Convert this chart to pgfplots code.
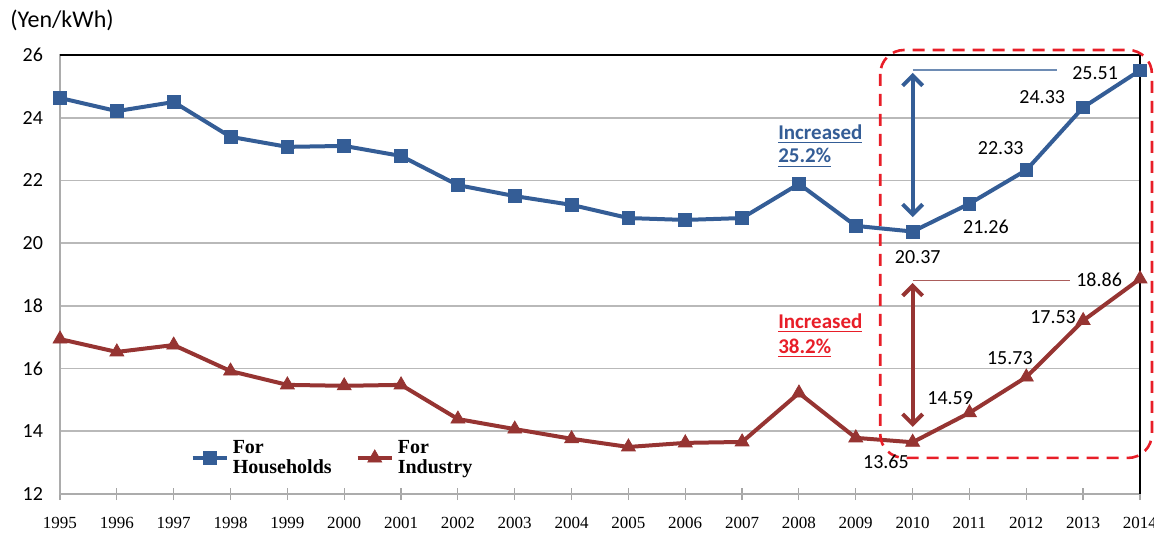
\documentclass[border=0pt]{standalone}
\usepackage{fontspec}
\setmainfont{Carlito}
\newfontfamily\serif{Liberation Serif}
\usepackage{pgfplots}
\pgfplotsset{compat=1.18}
\usetikzlibrary{arrows.meta}

\definecolor{hhblue}{RGB}{52,93,150}
\definecolor{indred}{RGB}{150,52,50}
\definecolor{boxred}{RGB}{232,30,40}
\definecolor{refblue}{RGB}{110,140,180}

\begin{document}
\begin{tikzpicture}
\useasboundingbox (-30pt,-20pt) rectangle (547pt,247pt);
\begin{axis}[
    at={(0,0)}, anchor=south west,
    scale only axis, width=540pt, height=219.5pt,
    xmin=1995, xmax=2014, ymin=12, ymax=26,
    xtick={1995,...,2014}, ytick={12,14,...,26},
    xtick pos=left, ytick pos=left,
    /pgf/number format/1000 sep={},
    /pgf/number format/assume math mode=true,
    ymajorgrids,
    grid style={gray!55, line width=0.8pt},
    axis line style={gray!65, line width=0.8pt},
    xtick align=center, major tick length=6pt,
    xtick style={gray!70, line width=0.6pt},
    ytick style={draw=none},
    xticklabel style={font=\serif\fontsize{8.5}{9}\selectfont, yshift=-5pt},
    yticklabel style={font=\fontsize{10}{11}\selectfont, xshift=-5pt},
    clip=false,
    legend style={
        at={(0.115,0.082)}, anchor=west,
        draw=none, fill=none,
        legend columns=2,
        font=\serif\bfseries\fontsize{10}{10.5}\selectfont,
        /tikz/every even column/.append style={column sep=10pt},
    },
    legend cell align=left,
]

% households
\addplot[color=hhblue, line width=2pt, mark=square*, mark size=3.2pt,
    mark options={solid, line width=0.4pt}] coordinates {
    (1995,24.63) (1996,24.21) (1997,24.50) (1998,23.39) (1999,23.07)
    (2000,23.10) (2001,22.78) (2002,21.85) (2003,21.50) (2004,21.22)
    (2005,20.80) (2006,20.74) (2007,20.80) (2008,21.89) (2009,20.55)
    (2010,20.37) (2011,21.26) (2012,22.33) (2013,24.33) (2014,25.51)
};
\addlegendentry{\shortstack[l]{For\\Households}}

% industry
\addplot[color=indred, line width=2pt, mark=triangle*, mark size=4pt,
    mark options={solid, line width=0.4pt}] coordinates {
    (1995,16.94) (1996,16.53) (1997,16.75) (1998,15.92) (1999,15.48)
    (2000,15.45) (2001,15.48) (2002,14.39) (2003,14.07) (2004,13.76)
    (2005,13.50) (2006,13.63) (2007,13.66) (2008,15.22) (2009,13.79)
    (2010,13.65) (2011,14.59) (2012,15.73) (2013,17.53) (2014,18.86)
};
\addlegendentry{\shortstack[l]{For\\Industry}}

% frame top and right
\draw[black, line width=0.6pt] (rel axis cs:0,1) -- (rel axis cs:1,1) -- (rel axis cs:1,0);

% highlighted region
\draw[boxred, line width=1.3pt, dash pattern=on 6pt off 4pt, rounded corners=12pt]
    (axis cs:2009.43,26.16) rectangle (axis cs:2014.21,13.15);

% reference lines and arrows
\draw[refblue, line width=0.8pt] (axis cs:2010,25.52) -- (axis cs:2012.54,25.52);
\draw[indred!80, line width=0.6pt] (axis cs:2010,18.80) -- (axis cs:2012.77,18.80);
\draw[hhblue, line width=2pt, {Straight Barb[length=5pt,width=10pt]}-{Straight Barb[length=5pt,width=10pt]}]
    (axis cs:2010,25.43) -- (axis cs:2010,20.83);
\draw[indred, line width=2pt, {Straight Barb[length=5pt,width=10pt]}-{Straight Barb[length=5pt,width=10pt]}]
    (axis cs:2010,18.73) -- (axis cs:2010,14.14);

% value labels
\begin{scope}[every node/.style={font=\fontsize{10}{12}\selectfont, inner sep=0pt}]
\node at (axis cs:2013.21,25.43) {25.51};
\node at (axis cs:2012.28,24.66) {24.33};
\node at (axis cs:2011.55,23.03) {22.33};
\node at (axis cs:2011.29,20.51) {21.26};
\node at (axis cs:2010.09,19.56) {20.37};
\node at (axis cs:2013.28,18.82) {18.86};
\node at (axis cs:2012.47,17.64) {17.53};
\node at (axis cs:2011.71,16.34) {15.73};
\node at (axis cs:2010.66,15.06) {14.59};
\node at (axis cs:2009.53,13.02) {13.65};
\end{scope}

% increase notes
\begin{scope}[every node/.style={font=\bfseries\fontsize{10.5}{12}\selectfont, inner sep=0pt, anchor=west}]
\node[text=hhblue] at (axis cs:2007.63,23.48) {\underline{Increased}};
\node[text=hhblue] at (axis cs:2007.63,22.72) {\underline{25.2\%}};
\node[text=boxred] at (axis cs:2007.63,17.45) {\underline{Increased}};
\node[text=boxred] at (axis cs:2007.63,16.66) {\underline{38.2\%}};
\end{scope}
\end{axis}

% unit label
\node[anchor=west, inner sep=0pt, font=\fontsize{12}{14}\selectfont] at (-25pt,237pt) {(Yen/kWh)};
\end{tikzpicture}
\end{document}
